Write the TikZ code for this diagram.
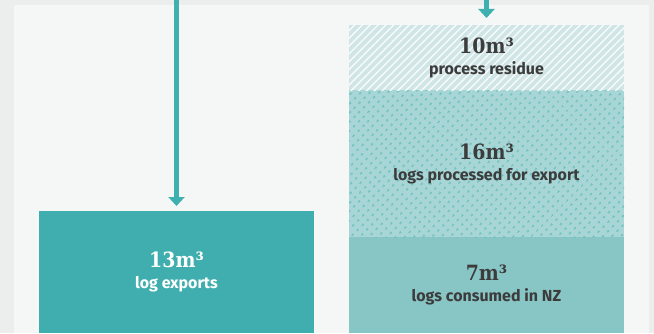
\documentclass[tikz,border=0pt]{standalone}
\usepackage{fontspec}
\usetikzlibrary{positioning,arrows.meta,patterns.meta}
\newfontfamily\numfont{DejaVu Serif Condensed}
\newfontfamily\lblfont{Fira Sans}
\definecolor{outerbg}{HTML}{ECEEED}
\definecolor{panelbg}{HTML}{F5F7F6}
\definecolor{flowteal}{HTML}{3FB0B0}
\definecolor{exportteal}{HTML}{40AEAE}
\definecolor{nzteal}{HTML}{88C5C5}
\definecolor{procteal}{HTML}{A8D6D6}
\definecolor{procdots}{HTML}{6CC0C0}
\definecolor{resteal}{HTML}{CFE5E6}
\definecolor{darktxt}{HTML}{3C3C3C}
\tikzset{
  volbox/.style={minimum width=275pt,inner sep=0pt,outer sep=0pt,align=center,
    text=darktxt,font=\lblfont\bfseries\fontsize{16}{21}\selectfont},
  flowarr/.style={-{Triangle[width=16pt,length=9pt]},line width=5pt,flowteal},
  dotfill/.style={fill=procteal,postaction={pattern={Dots[radius=1.4pt,distance=6.5pt,angle=45]},
    pattern color=procdots}},
  stripefill/.style={fill=resteal,postaction={pattern={Lines[angle=45,distance=5.5pt,line width=1.4pt]},
    pattern color=white!85!resteal}},
}
\newcommand{\vol}[1]{{\numfont\bfseries\fontsize{21}{21}\selectfont #1}}
\begin{document}
\begin{tikzpicture}[x=1pt,y=1pt]
  \useasboundingbox (0,0) rectangle (654,333);
  \fill[outerbg] (0,0) rectangle (654,333);
  \fill[panelbg] (14,0) rectangle (649,328);
  % left column
  \node[volbox,fill=exportteal,text=white,minimum height=122pt,anchor=south west]
    (exports) at (39,0) {\vol{13m³}\\log exports};
  \coordinate (topL) at (exports.north |- 0,333);
  \draw[flowarr,shorten >=5pt] (topL) -- (exports.north);
  % right column, stacked
  \node[volbox,fill=nzteal,minimum height=96pt,anchor=south west]
    (consumed) at (349,0) {\vol{7m³}\\logs consumed in NZ};
  \node[volbox,dotfill,minimum height=147pt,above=0pt of consumed]
    (processed) {\vol{16m³}\\logs processed for export};
  \node[volbox,stripefill,minimum height=65pt,above=0pt of processed]
    (residue) {\vol{10m³}\\process residue};
  \coordinate (topR) at (residue.north |- 0,333);
  \draw[flowarr,shorten >=7pt] (topR) -- (residue.north);
\end{tikzpicture}
\end{document}
